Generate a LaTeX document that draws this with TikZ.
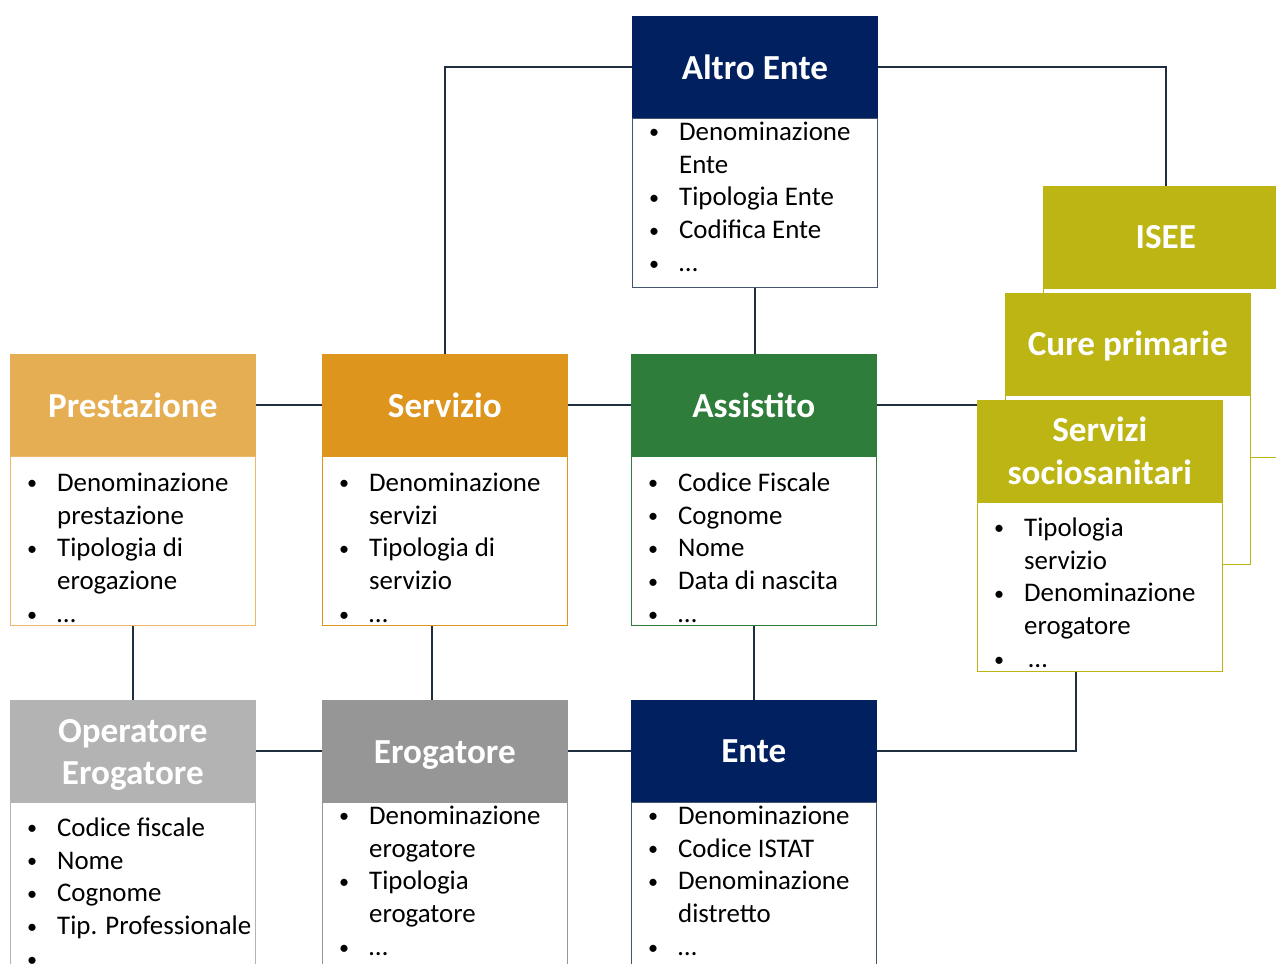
\documentclass[tikz,border=0pt]{standalone}
\usepackage{fontspec}
\setmainfont{Carlito}
\usetikzlibrary{positioning,backgrounds}

\definecolor{navy}{HTML}{002060}
\definecolor{slateb}{HTML}{44546A}
\definecolor{orgL}{HTML}{E6AE52}
\definecolor{orgLb}{HTML}{EBB868}
\definecolor{orgD}{HTML}{DD951D}
\definecolor{grn}{HTML}{2E7D3A}
\definecolor{olv}{HTML}{BDB513}
\definecolor{grL}{HTML}{B3B3B3}
\definecolor{grD}{HTML}{969696}
\definecolor{wire}{HTML}{1F2F3F}

\newcommand{\headfont}{\fontsize{20}{24.4}\selectfont\bfseries}
\newcommand{\itemfont}{\fontsize{15.3}{18.7}\selectfont}
\newcommand{\bul}{\makebox[0.94cm][l]{\hspace{0.34cm}\raisebox{0.1ex}{\scalebox{0.75}{\textbullet}}}}
\newcommand{\cnt}{\hspace*{0.94cm}}
\newcommand{\lst}[1]{\parbox[t]{6cm}{\raggedright #1}}

\begin{document}
\begin{tikzpicture}[x=0.02cm,y=-0.02cm,
    head/.style={fill=#1,draw=#1,minimum width=4.9cm,minimum height=2.03cm,
      inner sep=0,text=white,font=\headfont,align=center,anchor=north west},
    body/.style={draw=#1,fill=white,line width=0.6pt,minimum width=4.9cm,
      minimum height=3.38cm,inner sep=0},
    items/.style={anchor=base west,inner sep=0,font=\itemfont},
    link/.style={draw=wire,line width=1.1pt}]
    \useasboundingbox (0,0) rectangle (1276,964);
    \clip (0,0) rectangle (1276,964);

    % top box
    \node[head=navy] (altro) at (632,16) {Altro Ente};
    \node[body=slateb,below=0pt of altro] (altro-b) {};
    \node[items] at ([yshift=-0.44cm]altro-b.north west)
      {\lst{\bul Denominazione\\ \cnt Ente\\ \bul Tipologia Ente\\
        \bul Codifica Ente\\ \bul …}};

    % stacked olive boxes, back to front
    \node[head=olv] (isee) at (1043,186) {ISEE};
    \node[body=olv,below=0pt of isee] (isee-b) {};
    \node[head=olv] (cure) at (1005,293) {\rule{0pt}{16.5pt}Cure primarie};
    \node[body=olv,below=0pt of cure] (cure-b) {};
    \node[head=olv] (soc) at (977,400) {Servizi\\ sociosanitari};
    \node[body=olv,below=0pt of soc] (soc-b) {};
    \node[items] at ([yshift=-0.68cm]soc-b.north west)
      {\lst{\bul Tipologia\\ \cnt servizio\\ \bul Denominazione\\
        \cnt erogatore\\ \bul \,…}};

    % middle row
    \node[head=orgL] (prest) at (10,354) {Prestazione};
    \node[body=orgLb,below=0pt of prest] (prest-b) {};
    \node[items] at ([yshift=-0.7cm]prest-b.north west)
      {\lst{\bul Denominazione\\ \cnt prestazione\\ \bul Tipologia di\\
        \cnt erogazione\\ \bul …}};

    \node[head=orgD] (serv) at (322,354) {Servizio};
    \node[body=orgD,below=0pt of serv] (serv-b) {};
    \node[items] at ([yshift=-0.7cm]serv-b.north west)
      {\lst{\bul Denominazione\\ \cnt servizi\\ \bul Tipologia di\\
        \cnt servizio\\ \bul …}};

    \node[head=grn] (assist) at (631,354) {Assistito};
    \node[body=grn,below=0pt of assist] (assist-b) {};
    \node[items] at ([yshift=-0.7cm]assist-b.north west)
      {\lst{\bul Codice Fiscale\\ \bul Cognome\\ \bul Nome\\
        \bul Data di nascita\\ \bul …}};

    % bottom row
    \node[head=grL] (oper) at (10,700) {\rule{0pt}{17.5pt}Operatore\\ Erogatore};
    \node[body=grL,below=0pt of oper,minimum height=4cm] (oper-b) {};
    \node[items] at ([yshift=-0.68cm]oper-b.north west)
      {\lst{\bul Codice fiscale\\ \bul Nome\\ \bul Cognome\\
        \bul Tip. Professionale\\ \bul …}};

    \node[head=grD] (erog) at (322,700) {\rule{0pt}{17.3pt}Erogatore};
    \node[body=grD,below=0pt of erog,minimum height=4cm] (erog-b) {};
    \node[items] at ([yshift=-0.44cm]erog-b.north west)
      {\lst{\bul Denominazione\\ \cnt erogatore\\ \bul Tipologia\\
        \cnt erogatore\\ \bul …}};

    \node[head=navy] (ente) at (631,700) {Ente};
    \node[body=slateb,below=0pt of ente,minimum height=4cm] (ente-b) {};
    \node[items] at ([yshift=-0.44cm]ente-b.north west)
      {\lst{\bul Denominazione\\ \bul Codice ISTAT\\ \bul Denominazione\\
        \cnt distretto\\ \bul …}};

    % connectors
    \begin{scope}[on background layer]
    \path[link] (altro.west) -| (serv.north);
    \path[link] (altro.east) -| (isee.north);
    \path[link] (altro-b.south) -- (altro-b.south |- assist.north);
    \path[link] (prest.east) -- (serv.west);
    \path[link] (serv.east) -- (assist.west);
    \path[link] (assist.east) -- (assist.east -| soc.west);
    \path[link] (prest-b.south) -- (oper.north);
    \path[link] ([xshift=-0.26cm]serv-b.south) -- ([xshift=-0.26cm]erog.north);
    \path[link] (assist-b.south) -- (ente.north);
    \path[link] (oper.east) -- (erog.west);
    \path[link] (erog.east) -- (ente.west);
    \path[link] (ente.east) -| ([xshift=-0.47cm]soc-b.south);
    \end{scope}
\end{tikzpicture}
\end{document}
